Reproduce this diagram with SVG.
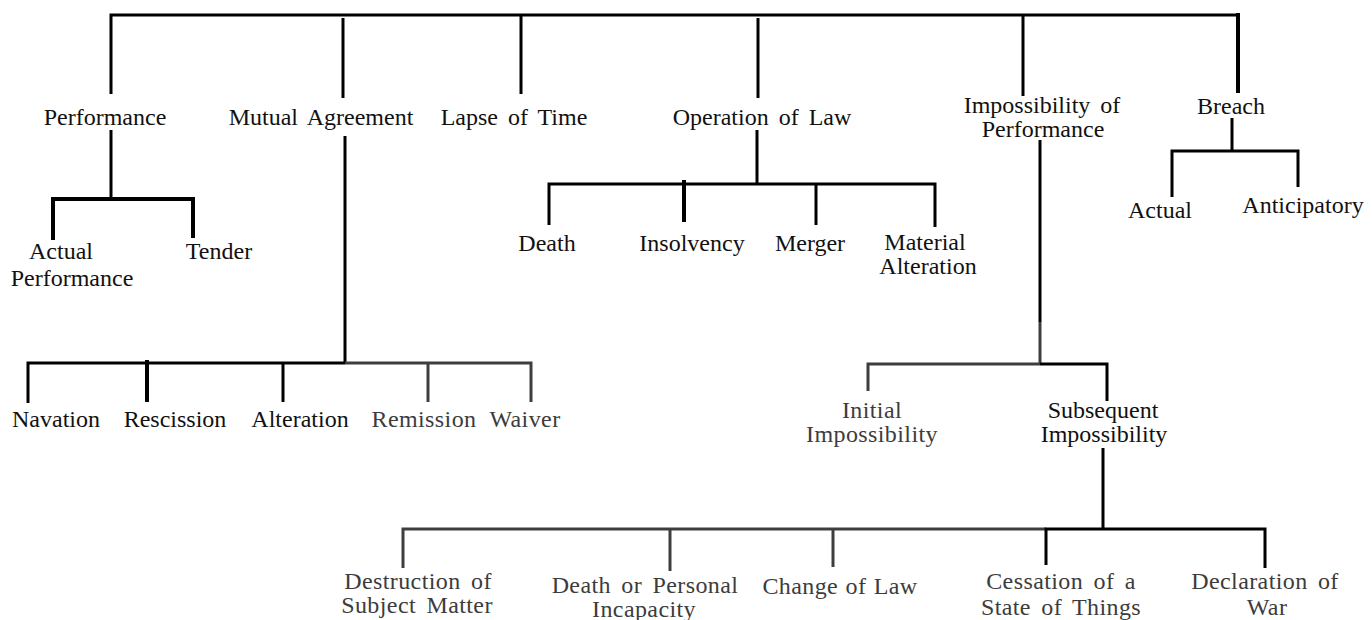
<svg xmlns="http://www.w3.org/2000/svg" width="1372" height="620" viewBox="0 0 1372 620">
  <style>
    text { font-family: "Liberation Serif", "Times New Roman", serif; font-size: 24px; text-anchor: middle; word-spacing: 4px; fill: #111; }
    text.soft { fill: #3c3c3c; letter-spacing: 0.4px; }
    .ln { fill: none; stroke: #000; stroke-width: 3; stroke-linecap: butt; stroke-linejoin: miter; }
    .gr { fill: none; stroke: #3e3e3e; stroke-width: 3; }
    .hv { stroke-width: 4; }
  </style>

  <rect width="1372" height="620" fill="#fff"/>

  <!-- connectors -->
  <g id="connectors">
    <!-- root bar and first-level drops -->
    <path class="ln" d="M111,94 V15 H1238"/>
    <path class="ln" d="M343,18 V98"/>
    <path class="ln" d="M521,15 V94"/>
    <path class="ln" d="M758,18 V98"/>
    <path class="ln" d="M1023,15 V96"/>
    <path class="ln hv" d="M1238,13 V93"/>

    <!-- Performance -->
    <path class="ln" d="M111,130 V199"/>
    <path class="ln hv" d="M53,240 V199 H193 V238"/>

    <!-- Mutual Agreement -->
    <path class="ln" d="M345,136 V363"/>
    <path class="ln" d="M28,403 V363 H345"/>
    <path class="gr" d="M345,363 H531 V402"/>
    <path class="ln hv" d="M147,360 V402"/>
    <path class="ln" d="M283,363 V402"/>
    <path class="gr" d="M428,363 V402"/>

    <!-- Operation of Law -->
    <path class="ln" d="M757,130 V184"/>
    <path class="ln" d="M549,225 V184 H935 V227"/>
    <path class="ln hv" d="M684,180 V222"/>
    <path class="ln" d="M816,184 V225"/>

    <!-- Impossibility of Performance -->
    <path class="ln" d="M1040,140 V322"/>
    <path class="gr" d="M1040,322 V364"/>
    <path class="gr" d="M868,391 V364 H1040"/>
    <path class="ln" d="M1040,364 H1107 V401"/>

    <!-- Breach -->
    <path class="ln" d="M1232,118 V151"/>
    <path class="ln" d="M1172,197 V151 H1298 V187"/>

    <!-- Subsequent Impossibility -->
    <path class="ln" d="M1103,448 V529"/>
    <path class="gr" d="M403,568 V529 H1046"/>
    <path class="ln" d="M1046,565 V529 H1265 V568"/>
    <path class="gr" d="M670,529 V571"/>
    <path class="gr" d="M833,529 V567"/>
  </g>

  <!-- first level -->
  <g id="performance"><text x="105" y="125">Performance</text></g>
  <g id="mutual-agreement"><text x="321" y="125">Mutual Agreement</text></g>
  <g id="lapse-of-time"><text x="514" y="125">Lapse of Time</text></g>
  <g id="operation-of-law"><text x="762" y="125">Operation of Law</text></g>
  <g id="impossibility-of-performance">
    <text x="1042" y="113">Impossibility of<tspan x="1043" dy="24">Performance</tspan></text>
  </g>
  <g id="breach"><text x="1231" y="114">Breach</text></g>

  <!-- Performance children -->
  <g id="actual-performance">
    <text x="61" y="259">Actual<tspan x="72" dy="27">Performance</tspan></text>
  </g>
  <g id="tender"><text x="219" y="259">Tender</text></g>

  <!-- Mutual Agreement children -->
  <g id="navation"><text x="56" y="427">Navation</text></g>
  <g id="rescission"><text x="175" y="427">Rescission</text></g>
  <g id="alteration"><text x="300" y="427">Alteration</text></g>
  <g id="remission"><text class="soft" x="424" y="427">Remission</text></g>
  <g id="waiver"><text class="soft" x="525" y="427">Waiver</text></g>

  <!-- Operation of Law children -->
  <g id="death"><text x="547" y="251">Death</text></g>
  <g id="insolvency"><text x="692" y="251">Insolvency</text></g>
  <g id="merger"><text x="810" y="251">Merger</text></g>
  <g id="material-alteration">
    <text x="925" y="250">Material<tspan x="928" dy="24">Alteration</tspan></text>
  </g>

  <!-- Breach children -->
  <g id="actual"><text x="1160" y="218">Actual</text></g>
  <g id="anticipatory"><text x="1303" y="213">Anticipatory</text></g>

  <!-- Impossibility children -->
  <g id="initial-impossibility">
    <text class="soft" x="872" y="418">Initial<tspan x="872" dy="24">Impossibility</tspan></text>
  </g>
  <g id="subsequent-impossibility">
    <text x="1103" y="418">Subsequent<tspan x="1104" dy="24">Impossibility</tspan></text>
  </g>

  <!-- Subsequent Impossibility children -->
  <g id="destruction-of-subject-matter">
    <text class="soft" x="418" y="589">Destruction of<tspan x="417" dy="24">Subject Matter</tspan></text>
  </g>
  <g id="death-or-personal-incapacity">
    <text class="soft" x="645" y="593">Death or Personal<tspan x="644" dy="24">Incapacity</tspan></text>
  </g>
  <g id="change-of-law"><text class="soft" x="840" y="594" style="word-spacing:1px">Change of Law</text></g>
  <g id="cessation-of-a-state-of-things">
    <text class="soft" x="1061" y="589">Cessation of a<tspan x="1061" dy="26">State of Things</tspan></text>
  </g>
  <g id="declaration-of-war">
    <text class="soft" x="1265" y="589">Declaration of<tspan x="1267" dy="26">War</tspan></text>
  </g>
</svg>
